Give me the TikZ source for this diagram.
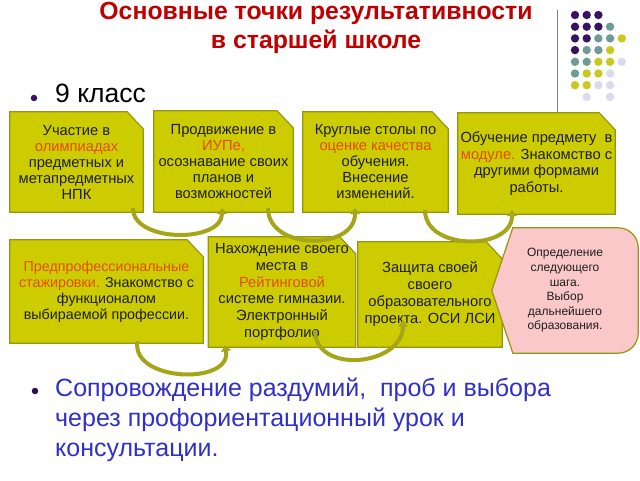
\documentclass[tikz,border=0pt]{standalone}
\usepackage{fontspec}
\setmainfont{Liberation Sans}
\usetikzlibrary{arrows.meta}
\pgfdeclarelayer{background}
\pgfsetlayers{background,main}
\definecolor{boxfill}{RGB}{204,204,0}
\definecolor{boxline}{RGB}{150,150,20}
\definecolor{boxtext}{RGB}{30,30,30}
\definecolor{hl}{RGB}{230,76,0}
\definecolor{pinkfill}{RGB}{250,200,200}
\definecolor{arrowc}{RGB}{165,165,25}
\definecolor{titlered}{RGB}{192,0,0}
\definecolor{bluetext}{RGB}{48,48,200}
\definecolor{dp}{RGB}{55,20,95}
\definecolor{tg}{RGB}{110,155,150}
\definecolor{yg}{RGB}{200,200,30}
\definecolor{lv}{RGB}{218,218,236}

\begin{document}
\begin{tikzpicture}[x=1pt,y=1pt]
\tikzstyle{every node}=[inner sep=0pt, align=center]
\tikzstyle{cbox}=[rectangle, text=boxtext, font=\fontsize{14.7}{16}\selectfont]
\tikzstyle{edge}=[draw=boxline, line width=1.2pt]
\tikzstyle{bendarrow}=[line width=4pt, draw=arrowc, -{Triangle[width=10pt,length=6pt]}, out=-90, in=-90]
\tikzstyle{bul}=[circle, fill=dp, minimum size=6.5pt]
\useasboundingbox (0,0) rectangle (640,480);

\draw (316,478) node (title) [anchor=north, text=titlered, font=\bfseries\fontsize{24.8}{29}\selectfont] {Основные точки результативности\\в старшей школе};
\draw[gray, line width=1pt] (557,470) -- (557,367);
\foreach \c/\r/\k in {0/0/dp,1/0/dp,2/0/dp,
  0/1/dp,1/1/dp,2/1/dp,3/1/tg,
  0/2/dp,1/2/dp,2/2/tg,3/2/tg,4/2/yg,
  0/3/dp,1/3/tg,2/3/tg,3/3/yg,
  0/4/tg,1/4/tg,2/4/yg,3/4/yg,4/4/lv,
  0/5/tg,1/5/yg,2/5/yg,3/5/lv,
  0/6/yg,1/6/yg,2/6/lv,3/6/lv,
  1/7/lv,3/7/lv}
  \fill[\k] (575+11.7*\c, 465-11.7*\r) circle (4.2);

\draw (34,382) node (d1) [bul] {};
\draw (55,377) node (k9) [anchor=base west, font=\fontsize{26.5}{30}\selectfont] {9 класс};

\draw (76.5,318) node (b1) [cbox, minimum width=133pt, minimum height=100pt] {Участие в\\\textcolor{hl}{олимпиадах}\\предметных и\\метапредметных\\НПК};
\draw (223.5,318.5) node (b2) [cbox, minimum width=139pt, minimum height=101pt] {Продвижение в\\\textcolor{hl}{ИУПе,}\\осознавание своих\\планов и\\возможностей};
\draw (375.5,318) node (b3) [cbox, minimum width=145pt, minimum height=100pt] {Круглые столы по\\\textcolor{hl}{оценке качества}\\обучения.\\Внесение\\изменений.};
\draw (536.5,316.5) node (b4) [cbox, minimum width=157pt, minimum height=101pt, font=\fontsize{14.7}{16.5}\selectfont] {Обучение предмету\ \ в\\\textcolor{hl}{модуле.} Знакомство с\\другими формами\\работы.};
\draw (106.5,188.5) node (b5) [cbox, minimum width=193pt, minimum height=103pt, font=\fontsize{14.3}{16}\selectfont] {\textcolor{hl}{Предпрофессиональные}\\\textcolor{hl}{стажировки.} Знакомство с\\функционалом\\выбираемой профессии.};
\draw (282,188) node (b6) [cbox, minimum width=147pt, minimum height=110pt, font=\fontsize{14.7}{16.8}\selectfont] {Нахождение своего\\места в\\\textcolor{hl}{Рейтинговой}\\системе гимназии.\\Электронный\\портфолио};
\draw (430,185.5) node (b7) [cbox, minimum width=144pt, minimum height=105pt, font=\fontsize{14.7}{17}\selectfont] {Защита своей\\своего\\образовательного\\проекта. ОСИ ЛСИ};
\draw (565,189.5) node (b8) [cbox, minimum width=146pt, minimum height=125pt, font=\fontsize{12}{14.6}\selectfont] {Определение\\следующего\\шага.\\Выбор\\дальнейшего\\образования.};

\begin{pgfonlayer}{background}
\fill[white] (0,0) rectangle (640,480);
\foreach \n in {b1,b2,b3,b4,b5,b6,b7}
  \filldraw[edge, fill=boxfill] (\n.south west) -- (\n.north west) -- ([xshift=-16pt]\n.north east) -- ([yshift=-17pt]\n.north east) -- (\n.south east) -- cycle;
\filldraw[edge, fill=pinkfill] (b8.west) -- ([xshift=21pt]b8.north west) -- ([xshift=-20pt]b8.north east) arc[start angle=90, end angle=0, radius=20pt] -- ([yshift=20pt]b8.south east) arc[start angle=0, end angle=-90, radius=20pt] -- ([xshift=21pt]b8.south west) -- cycle;
\end{pgfonlayer}

\draw[bendarrow, looseness=1] ([xshift=56.5pt,yshift=4pt]b1.south) to ([xshift=-1.5pt,yshift=4pt]b2.south);
\draw[bendarrow, looseness=1.25] ([xshift=44.5pt,yshift=4pt]b2.south) to ([xshift=-20.5pt,yshift=4pt]b3.south);
\draw[bendarrow, looseness=1.2] ([xshift=49.5pt,yshift=2pt]b3.south) to ([xshift=-24.5pt,yshift=4pt]b4.south);
\draw[bendarrow, looseness=1.2, out=-100, in=-80] ([xshift=31pt,yshift=2pt]b5.south) to ([xshift=-57pt,yshift=2pt]b6.south);
\draw[bendarrow, looseness=1.3] ([xshift=33pt,yshift=17pt]b6.south) to ([xshift=-27pt,yshift=26.5pt]b7.south);

\draw (35,89) node (d2) [bul, fill=dp!80!black] {};
\draw (55,102) node (txt) [anchor=north west, align=left, text=bluetext, font=\fontsize{25}{30}\selectfont] {Сопровождение раздумий,\ \ проб и выбора\\через профориентационный урок и\\консультации.};
\end{tikzpicture}
\end{document}
